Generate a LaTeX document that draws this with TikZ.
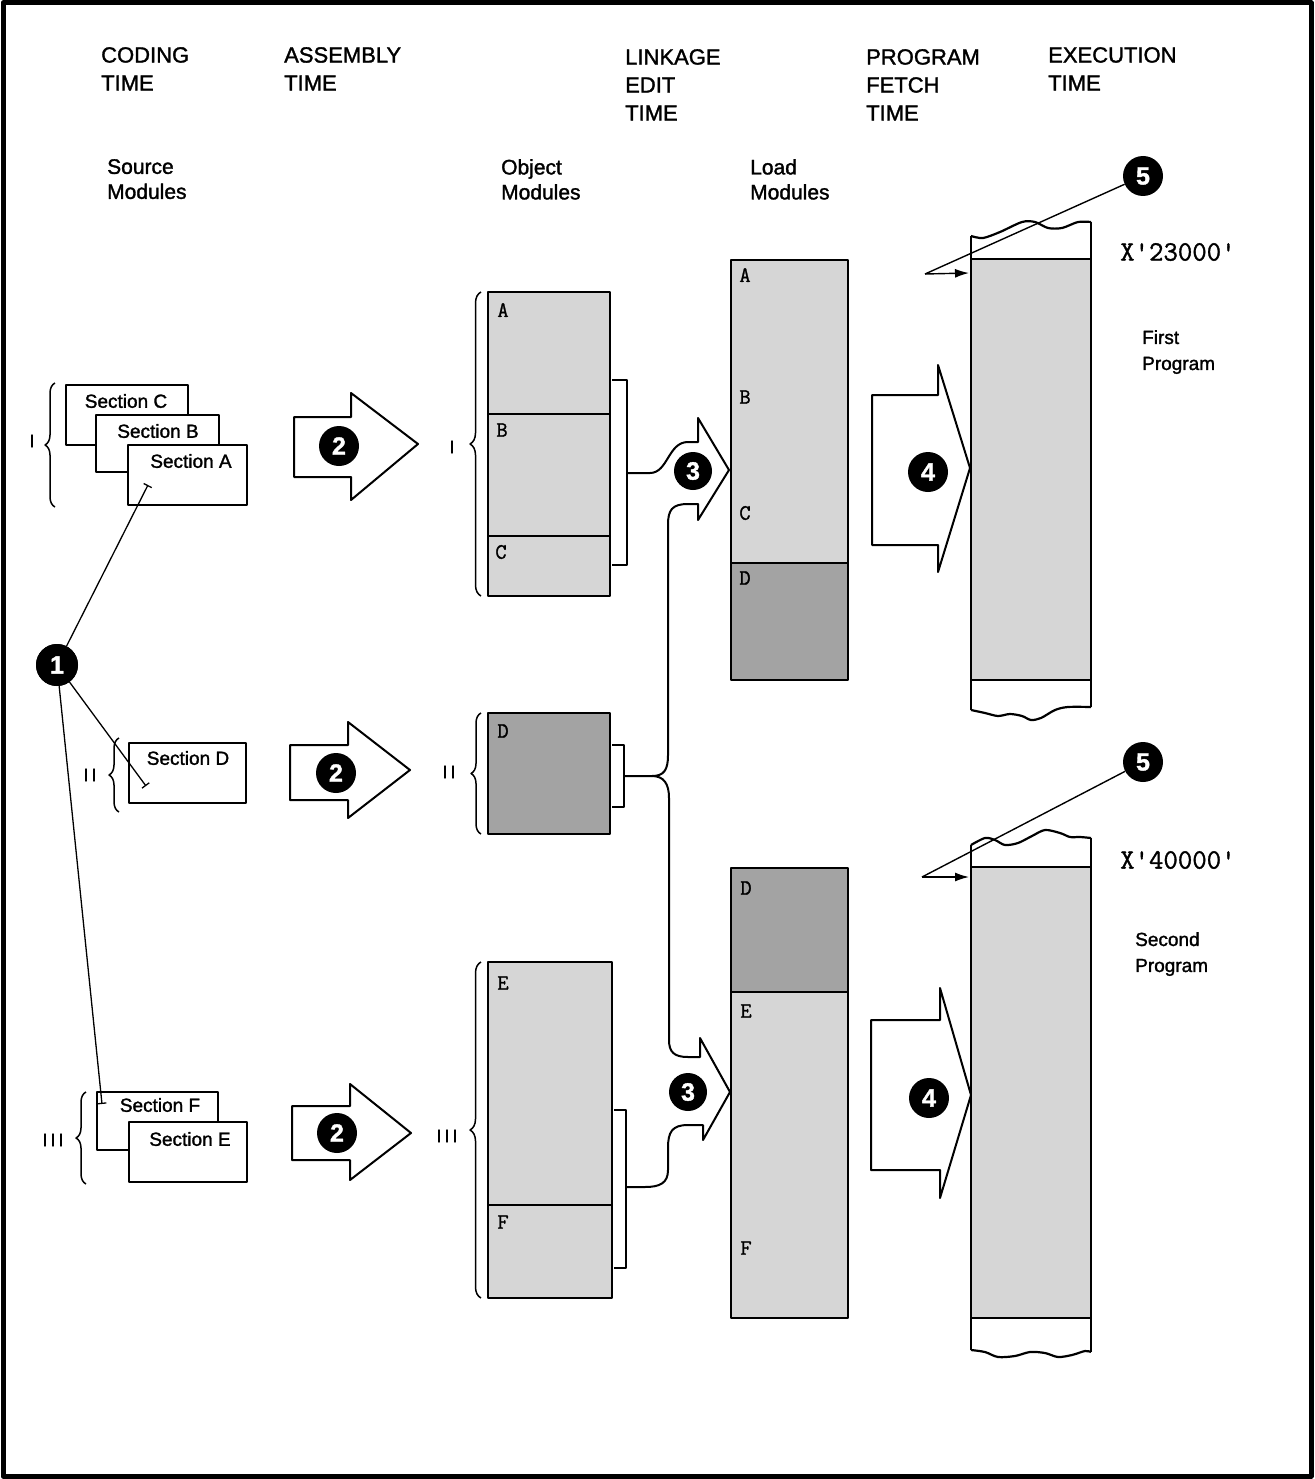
\documentclass[tikz,border=0pt]{standalone}
\usepackage{fontspec}
\setmainfont{Liberation Sans}[FakeBold=1.5]
\newfontfamily\tyfont{Latin Modern Mono}[FakeBold=1.2]
\newfontfamily\numfont{Liberation Sans}[FakeBold=1.5]
\usetikzlibrary{arrows.meta,decorations.pathreplacing}
\definecolor{lightfill}{gray}{0.84}
\definecolor{darkfill}{gray}{0.64}
\begin{document}
\begin{tikzpicture}[x=1pt,y=-1pt,line join=round,
  box/.style={draw=black,line width=2.2pt},
  thinl/.style={draw=black,line width=1.6pt},
  shape2/.style={draw=black,line width=2pt,fill=white},
  num/.style={circle,fill=black,minimum size=40pt,inner sep=0pt,text=white,font=\numfont\fontsize{25}{25}\selectfont\bfseries},
  hdr/.style={anchor=north west,inner sep=0pt,align=left,font=\fontsize{22}{28}\selectfont},
  sub/.style={anchor=north west,inner sep=0pt,align=left,font=\fontsize{21}{25}\selectfont},
  sect/.style={inner sep=0pt,font=\fontsize{19}{19}\selectfont},
  rom/.style={inner sep=0pt,font=\fontsize{18}{18}\selectfont},
  letter/.style={inner sep=0pt,font=\tyfont\fontsize{22}{22}\selectfont},
  addr/.style={inner sep=0pt,anchor=west,font=\tyfont\fontsize{28}{28}\selectfont},
  brc/.style={draw=black,line width=1.5pt,decorate,decoration={brace,amplitude=10pt}},
  tick/.style={draw=black,line width=1.3pt,-{Bar[width=9pt,line width=1.3pt]}},
  ptr/.style={draw=black,line width=1.4pt}
]
\useasboundingbox (0,0) rectangle (1314,1479);
\draw[line width=5pt] (3,3) rectangle (1311,1476);

% headers
\node[hdr] (h1) at (101,47) {CODING\\TIME};
\node[hdr] (h2) at (284,47) {ASSEMBLY\\TIME};
\node[hdr] (h3) at (625,49) {LINKAGE\\EDIT\\TIME};
\node[hdr] (h4) at (866,49) {PROGRAM\\FETCH\\TIME};
\node[hdr] (h5) at (1048,47) {EXECUTION\\TIME};
\node[sub] (s1) at (107,159) {Source\\Modules};
\node[sub] (s2) at (501,159) {Object\\Modules};
\node[sub] (s3) at (750,159) {Load\\Modules};

% source modules group I
\draw[box,fill=white] (66,385) rectangle (188,445);
\node[sect] (secC) at (126,401) {Section C};
\draw[box,fill=white] (96,415) rectangle (219,472);
\node[sect] (secB) at (158,431) {Section B};
\draw[box,fill=white] (128,445) rectangle (247,505);
\node[sect] (secA) at (191,461) {Section A};
\draw[brc] (55,507) -- (55,383);
\node[rom] (r1) at (32,441) {I};

% source group II
\draw[box,fill=white] (129,743) rectangle (246,803);
\node[sect] (secD) at (188,758) {Section D};
\draw[brc] (119,812) -- (119,738);
\node[rom] (r2) at (90,775) {I\,I};

% source group III
\draw[box,fill=white] (97,1092) rectangle (218,1150);
\node[sect] (secF) at (160,1105) {Section F};
\draw[box,fill=white] (129,1122) rectangle (247,1182);
\node[sect] (secE) at (190,1139) {Section E};
\draw[brc] (86,1184) -- (86,1092);
\node[rom] (r3) at (53,1140) {I\,I\,I};

% pointer 1
\coordinate (t1) at (148,485);
\coordinate (t2) at (146,786);
\coordinate (t3) at (102,1104);
\node[num,minimum size=42pt] (n1) at (57,665) {};
\draw[tick] (n1) -- (t1);
\draw[tick] (n1) -- (t2);
\draw[tick] (n1) -- (t3);
\node[num,minimum size=42pt] (n1b) at (57,665) {1};

% arrows 2
\draw[shape2] (294,417) -- (351,417) -- (351,393) -- (418,444) -- (351,500) -- (351,477) -- (294,477) -- cycle;
\node[num] (n2a) at (339,446) {2};
\draw[shape2] (290,745) -- (348,745) -- (348,722) -- (410,770) -- (348,818) -- (348,800) -- (290,800) -- cycle;
\node[num] (n2b) at (336,773) {2};
\draw[shape2] (292,1106) -- (350,1106) -- (350,1084) -- (411,1133) -- (350,1180) -- (350,1160) -- (292,1160) -- cycle;
\node[num] (n2c) at (337,1133) {2};

% object modules
\draw[box,fill=lightfill] (488,292) rectangle (610,596);
\draw[box] (488,414) -- (610,414) (488,536) -- (610,536);
\node[letter] (oA) at (503,310) {A};
\node[letter] (oB) at (502,430) {B};
\node[letter] (oC) at (501,552) {C};
\draw[brc,decoration={brace,amplitude=11pt}] (481,596) -- (481,292);
\node[rom] (r4) at (452,447) {I};
\draw[thinl] (612,380) -- (627,380) -- (627,565) -- (612,565);

\draw[box,fill=darkfill] (488,713) rectangle (610,834);
\node[letter] (oD) at (503,731) {D};
\draw[brc] (481,834) -- (481,713);
\node[rom] (r5) at (449,772) {I\,I};
\draw[thinl] (612,745) -- (624,745) -- (624,807) -- (612,807);

\draw[box,fill=lightfill] (488,962) rectangle (612,1298);
\draw[box] (488,1205) -- (612,1205);
\node[letter] (oE) at (503,983) {E};
\node[letter] (oF) at (503,1222) {F};
\draw[brc,decoration={brace,amplitude=11pt}] (481,1298) -- (481,962);
\node[rom] (r6) at (447,1136) {I\,I\,I};
\draw[thinl] (614,1110) -- (626,1110) -- (626,1268) -- (614,1268);

% load modules
\draw[box,fill=lightfill] (731,260) rectangle (848,563);
\draw[box,fill=darkfill] (731,563) rectangle (848,680);
\node[letter] (lA) at (745,275) {A};
\node[letter] (lB) at (745,397) {B};
\node[letter] (lC) at (745,513) {C};
\node[letter] (lD) at (745,578) {D};

\draw[box,fill=darkfill] (731,868) rectangle (848,992);
\draw[box,fill=lightfill] (731,992) rectangle (848,1318);
\node[letter] (lD2) at (746,888) {D};
\node[letter] (lE2) at (746,1011) {E};
\node[letter] (lF2) at (746,1248) {F};

% linkage arrows 3
\draw[thinl,line width=2pt] (627,473) -- (650,473) .. controls (668,473) and (668,442) .. (688,442) -- (698,442) -- (698,418) -- (729,470) -- (698,520) -- (698,504) -- (688,504) .. controls (672,504) and (668,510) .. (668,525) -- (668,755) .. controls (668,770) and (664,776) .. (652,776) -- (624,776);
\draw[thinl,line width=2pt] (652,776) .. controls (664,776) and (669,784) .. (669,798) -- (669,1040) .. controls (669,1052) and (674,1057) .. (688,1057) -- (700,1057) -- (700,1038) -- (730,1092) -- (703,1140) -- (703,1125) -- (688,1125) .. controls (672,1125) and (668,1132) .. (668,1148) -- (668,1170) .. controls (668,1183) and (660,1187) .. (645,1187) -- (626,1187);
\node[num,minimum size=38pt] (n3a) at (693,471) {3};
\node[num,minimum size=38pt] (n3b) at (688,1092) {3};

% fetch arrows 4
\draw[shape2] (872,395) -- (938,395) -- (938,365) -- (970,468) -- (938,572) -- (938,545) -- (872,545) -- cycle;
\node[num] (n4a) at (928,472) {4};
\draw[shape2] (871,1020) -- (940,1020) -- (940,988) -- (971,1095) -- (940,1198) -- (940,1170) -- (871,1170) -- cycle;
\node[num] (n4b) at (929,1098) {4};

% execution boxes
\fill[lightfill] (971,259) rectangle (1091,680);
\draw[box] (971,259) -- (1091,259) (971,680) -- (1091,680);
\draw[box] plot[smooth] coordinates {(971,236) (983,238) (1000,232) (1022,222) (1035,222) (1048,228) (1062,228) (1078,222) (1091,222)};
\draw[box] plot[smooth] coordinates {(971,710) (985,713) (998,716) (1010,714) (1022,716) (1031,720) (1041,718) (1055,710) (1068,707) (1091,707)};
\draw[box] (971,236) -- (971,710) (1091,222) -- (1091,707);

\fill[lightfill] (971,867) rectangle (1091,1318);
\draw[box] (971,867) -- (1091,867) (971,1318) -- (1091,1318);
\draw[box] plot[smooth] coordinates {(971,845) (985,838) (995,840) (1005,845) (1018,843) (1032,836) (1045,830) (1060,833) (1070,837) (1080,837) (1091,838)};
\draw[box] plot[smooth] coordinates {(971,1350) (985,1352) (998,1357) (1015,1356) (1030,1352) (1045,1353) (1058,1357) (1072,1355) (1085,1351) (1091,1352)};
\draw[box] (971,845) -- (971,1350) (1091,838) -- (1091,1352);

% pointers 5
\node[num] (n5a) at (1143,176) {5};
\coordinate (p5a) at (925,274);
\coordinate (e5a) at (969,273);
\draw[ptr] (n5a) -- (p5a);
\draw[ptr,-{Latex[length=14pt,width=9pt]}] (p5a) -- (e5a);
\node[num] (n5b) at (1143,762) {5};
\coordinate (p5b) at (922,877);
\coordinate (e5b) at (969,877);
\draw[ptr] (n5b) -- (p5b);
\draw[ptr,-{Latex[length=14pt,width=9pt]}] (p5b) -- (e5b);

% labels
\node[addr] (x1) at (1120,252) {X'23000'};
\node[addr] (x2) at (1120,860) {X'40000'};
\node[sub,font=\fontsize{19}{26}\selectfont] (fp) at (1142,330) {First\\Program};
\node[sub,font=\fontsize{19}{26}\selectfont] (sp) at (1135,932) {Second\\Program};
\end{tikzpicture}
\end{document}
